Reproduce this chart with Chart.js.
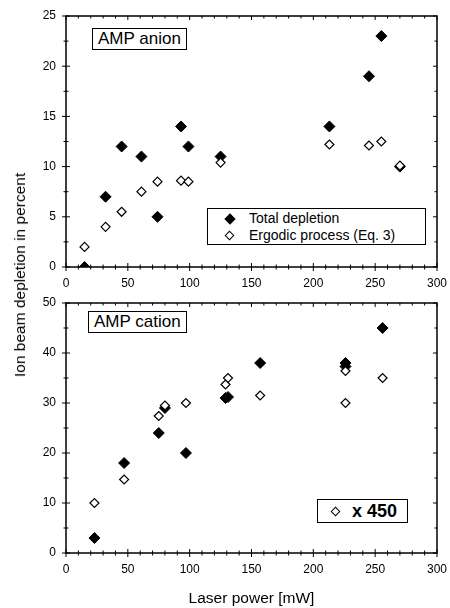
<!DOCTYPE html>
<html>
<head>
<meta charset="utf-8">
<script src="https://cdn.jsdelivr.net/npm/chart.js@4.4.1/dist/chart.umd.min.js"></script>
<style>
  body { margin: 0; background: #fff; font-family: 'Liberation Sans', Arial, sans-serif; }
  #wrap { position: relative; width: 450px; height: 608px; overflow: hidden; }
  canvas { position: absolute; left: 0; }
  .box { position: absolute; border: 1px solid #000; background: #fff; color: #000; box-sizing: border-box; }
  .dia { position: absolute; transform: rotate(45deg); box-sizing: border-box; }
  .ytitle { position: absolute; left: 20px; top: 275px; transform: translate(-50%, -50%) rotate(-90deg);
            font-size: 15.5px; white-space: nowrap; }
</style>
</head>
<body>
<div id="wrap">
  <canvas id="anionChart" width="450" height="300" style="top:0"></canvas>
  <canvas id="cationChart" width="450" height="318" style="top:290px"></canvas>

  <div class="ytitle">Ion beam depletion in percent</div>

  <div class="box" style="left:92px;top:28px;width:95px;height:22px;font-size:17px;line-height:20px;padding-left:5px;">AMP anion</div>
  <div class="box" style="left:88px;top:311px;width:99px;height:22px;font-size:17px;line-height:20px;padding-left:5px;">AMP cation</div>

  <div class="box" style="left:207px;top:208px;width:219px;height:37px;font-size:14px;">
    <div class="dia" style="left:18px;top:6px;width:8px;height:8px;background:#000;"></div>
    <div style="position:absolute;left:41px;top:1px;">Total depletion</div>
    <div class="dia" style="left:18px;top:23px;width:7px;height:7px;border:1px solid #000;background:#fff;"></div>
    <div style="position:absolute;left:41px;top:18px;">Ergodic process (Eq. 3)</div>
  </div>

  <div class="box" style="left:317px;top:499px;width:91px;height:24px;">
    <div class="dia" style="left:14px;top:8px;width:7px;height:7px;border:1px solid #000;background:#fff;"></div>
    <div style="position:absolute;left:34px;top:1px;font-size:18px;font-weight:bold;">x 450</div>
  </div>
</div>
<script>
// AMP anion (top panel)
const anionPower = [15, 32, 45, 61, 74, 93, 99, 125, 213, 245, 255, 270];
const anionTotal = [0, 7, 12, 11, 5, 14, 12, 11, 14, 19, 23, 10];
const anionErgodic = [2, 4, 5.5, 7.5, 8.5, 8.6, 8.5, 10.4, 12.2, 12.1, 12.5, 10.1];

// AMP cation (bottom panel, ergodic values scaled x 450)
const cationPower = [23, 47, 75, 80, 97, 129, 131, 157, 226, 226, 256];
const cationTotal = [3, 18, 24, 29, 20, 31, 31.2, 38, 38, 37.3, 45];
const cationErgodic = [10, 14.7, 27.4, 29.5, 30, 33.7, 35, 31.5, 36.4, 30, 35];

const xTicks = [0, 50, 100, 150, 200, 250, 300];

Chart.defaults.font.family = "'Liberation Sans', Arial, sans-serif";
Chart.defaults.font.size = 12;
Chart.defaults.color = '#000';

const toPoints = (xs, ys) => xs.map((x, i) => ({ x: x, y: ys[i] }));

// frame plus minor/major ticks on all four sides
const framePlugin = {
  id: 'frame',
  afterDraw(chart, args, opts) {
    const ctx = chart.ctx;
    const a = chart.chartArea;
    const xs = chart.scales.x, ys = chart.scales.y;
    ctx.save();
    ctx.strokeStyle = '#000';
    const line = (x0, y0, x1, y1) => { ctx.beginPath(); ctx.moveTo(x0, y0); ctx.lineTo(x1, y1); ctx.stroke(); };
    ctx.lineWidth = 1;
    const nx = Math.round((xs.max - xs.min) / opts.xMinor);
    for (let i = 0; i <= nx; i++) {
      const v = xs.min + i * opts.xMinor;
      const major = Math.abs(v / opts.xMajor - Math.round(v / opts.xMajor)) < 1e-6;
      const px = xs.getPixelForValue(v);
      const len = major ? 4 : 2.5;
      line(px, a.bottom + len, px, a.bottom - len);
      line(px, a.top, px, a.top + len);
    }
    const ny = Math.round((ys.max - ys.min) / opts.yMinor);
    for (let i = 0; i <= ny; i++) {
      const v = ys.min + i * opts.yMinor;
      const major = Math.abs(v / opts.yMajor - Math.round(v / opts.yMajor)) < 1e-6;
      const py = ys.getPixelForValue(v);
      const len = major ? 4 : 2.5;
      line(a.left - len, py, a.left + len, py);
      line(a.right - len, py, a.right, py);
    }
    ctx.lineWidth = 1.5;
    ctx.strokeRect(a.left, a.top, a.right - a.left, a.bottom - a.top);
    ctx.restore();
  }
};

function makeChart(id, power, total, ergodic, yMax, yStep, yMinor, pad, xHeight, xTitle) {
  const ctx = document.getElementById(id).getContext('2d');
  return new Chart(ctx, {
    type: 'scatter',
    data: {
      datasets: [
        {
          label: 'Ergodic process',
          data: toPoints(power, ergodic),
          pointStyle: 'rectRot',
          pointRadius: 4.5,
          pointHoverRadius: 4.5,
          backgroundColor: '#fff',
          borderColor: '#000',
          pointBorderWidth: 1.2,
        },
        {
          label: 'Total depletion',
          data: toPoints(power, total),
          pointStyle: 'rectRot',
          pointRadius: 5.5,
          pointHoverRadius: 5.5,
          backgroundColor: '#000',
          borderColor: '#000',
          pointBorderWidth: 1,
        },
      ],
    },
    options: {
      responsive: false,
      animation: false,
      layout: { padding: pad },
      plugins: {
        legend: { display: false },
        tooltip: { enabled: false },
        frame: { xMajor: 50, xMinor: 10, yMajor: yStep, yMinor: yMinor },
      },
      scales: {
        x: {
          type: 'linear',
          min: 0,
          max: 300,
          afterBuildTicks: (s) => { s.ticks = xTicks.map(v => ({ value: v })); },
          afterFit: (s) => { s.height = xHeight; s.paddingLeft = 0; s.paddingRight = 0; },
          ticks: { padding: 9, maxRotation: 0 },
          grid: { display: false, drawTicks: false },
          border: { display: false },
          title: xTitle ? { display: true, text: xTitle, font: { size: 15.5 }, padding: { top: 6, bottom: 0 } } : { display: false },
        },
        y: {
          min: 0,
          max: yMax,
          afterFit: (s) => { s.width = 24; s.paddingTop = 0; s.paddingBottom = 0; },
          ticks: { stepSize: yStep, padding: 10 },
          grid: { display: false, drawTicks: false },
          border: { display: false },
        },
      },
    },
    plugins: [framePlugin],
  });
}

makeChart('anionChart', anionPower, anionTotal, anionErgodic, 25, 5, 2.5,
  { left: 42, right: 13, top: 16, bottom: 0 }, 33, null);
makeChart('cationChart', cationPower, cationTotal, cationErgodic, 50, 10, 5,
  { left: 42, right: 13, top: 13, bottom: 0 }, 55, 'Laser power [mW]');
</script>
</body>
</html>
